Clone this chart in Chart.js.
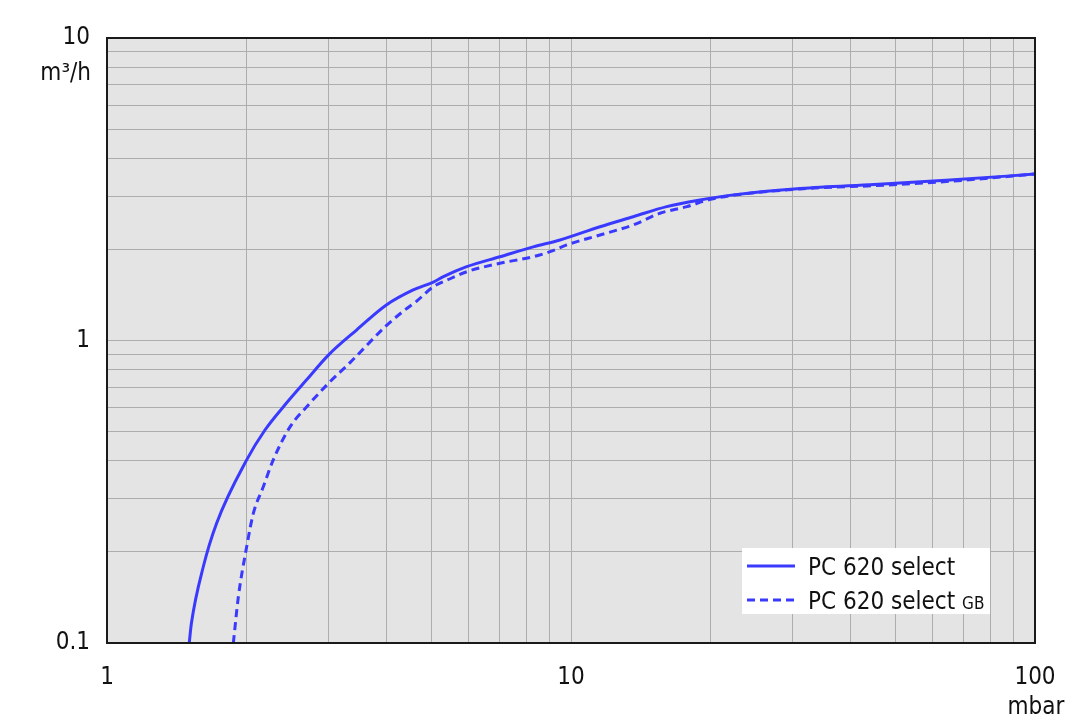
<!DOCTYPE html>
<html>
<head>
<meta charset="utf-8">
<script src="https://cdn.jsdelivr.net/npm/chart.js@4/dist/chart.umd.min.js"></script>
<style>
  html, body { margin: 0; padding: 0; background: #fff; }
  #wrap { width: 1080px; height: 721px; }
</style>
</head>
<body>
<div id="wrap"><canvas id="grafico" width="1080" height="721"></canvas></div>
<script>
// Saugvermögen (m³/h) über Druck (mbar)
const druckStd = [1.504, 1.52, 1.613, 1.723, 2.0, 2.19, 2.40, 2.69, 3.0, 3.45, 4.0, 4.57, 5.05, 5.31, 5.96, 7.03, 8.29, 9.47, 11.55, 13.62, 16.08, 18.97, 22.4, 31.2, 45, 65.6, 100];
const saugStd  = [0.1, 0.116, 0.179, 0.249, 0.403, 0.506, 0.604, 0.74, 0.895, 1.083, 1.31, 1.469, 1.56, 1.626, 1.754, 1.892, 2.04, 2.149, 2.377, 2.566, 2.77, 2.914, 3.03, 3.18, 3.28, 3.39, 3.55];

const druckGB = [1.872, 1.919, 2.0, 2.067, 2.173, 2.282, 2.48, 2.71, 2.996, 3.34, 4.0, 4.35, 4.65, 5.05, 5.49, 5.96, 7.03, 8.29, 9.01, 9.79, 11.55, 13.62, 15.55, 17.76, 20, 31.2, 45, 65.6, 100];
const saugGB  = [0.1, 0.142, 0.208, 0.268, 0.329, 0.403, 0.518, 0.61, 0.72, 0.845, 1.12, 1.25, 1.35, 1.506, 1.60, 1.688, 1.80, 1.892, 1.966, 2.07, 2.233, 2.41, 2.634, 2.77, 2.93, 3.17, 3.25, 3.36, 3.55];

const xTicks = [1, 10, 100];
const yTicks = [0.1, 1, 10];
const serien = ['PC 620 select', 'PC 620 select'];
const serienZusatz = ['', 'GB'];

const FONT = '"DejaVu Sans Condensed", "DejaVu Sans", sans-serif';
const BLAU = 'rgb(58, 58, 255)';

// Dekaden-Ticks 1..9 pro Dekade
function logTicks(scale, majors) {
  const ticks = [];
  for (let i = 0; i < majors.length; i++) {
    const m = majors[i];
    ticks.push({ value: m });
    if (i < majors.length - 1) {
      for (let k = 2; k <= 9; k++) ticks.push({ value: m * k });
    }
  }
  scale.ticks = ticks;
}

const hintergrund = {
  id: 'hintergrund',
  beforeDraw(chart) {
    const { ctx, chartArea: a } = chart;
    ctx.save();
    ctx.fillStyle = '#e4e4e4';
    ctx.fillRect(a.left, a.top, a.right - a.left, a.bottom - a.top);
    ctx.restore();
  },
  afterDatasetsDraw(chart) {
    const { ctx, chartArea: a } = chart;
    ctx.save();
    ctx.strokeStyle = '#1a1a1a';
    ctx.lineWidth = 2;
    ctx.strokeRect(a.left, a.top, a.right - a.left, a.bottom - a.top);
    ctx.restore();
  },
  afterDraw(chart) {
    const { ctx, chartArea: a } = chart;
    ctx.save();
    ctx.fillStyle = '#111';
    ctx.font = '24px ' + FONT;
    // Einheiten
    ctx.textAlign = 'right';
    ctx.textBaseline = 'middle';
    ctx.fillText('m³/h', a.left - 16, 74);
    ctx.textAlign = 'center';
    ctx.fillText('mbar', a.right + 1, 708);

    // Legende
    const lx = 742, ly = 548, lw = 248, lh = 66;
    ctx.fillStyle = '#ffffff';
    ctx.fillRect(lx, ly, lw, lh);
    chart.data.datasets.forEach((ds, i) => {
      const y = ly + 18 + i * 34;
      ctx.strokeStyle = ds.borderColor;
      ctx.lineWidth = ds.borderWidth;
      ctx.setLineDash(ds.borderDash || []);
      ctx.beginPath();
      ctx.moveTo(lx + 5, y);
      ctx.lineTo(lx + 53, y);
      ctx.stroke();
      ctx.setLineDash([]);
      ctx.fillStyle = '#111';
      ctx.textAlign = 'left';
      ctx.textBaseline = 'alphabetic';
      ctx.font = '24px ' + FONT;
      const base = y + 8.5;
      ctx.fillText(serien[i], lx + 66, base);
      if (serienZusatz[i]) {
        const w = ctx.measureText(serien[i] + ' ').width;
        ctx.font = '17px ' + FONT;
        ctx.fillText(serienZusatz[i], lx + 66 + w, base);
      }
    });
    ctx.restore();
  }
};

new Chart(document.getElementById('grafico'), {
  type: 'line',
  data: {
    datasets: [
      {
        label: serien[0],
        data: druckStd.map((x, i) => ({ x: x, y: saugStd[i] })),
        borderColor: BLAU,
        borderWidth: 3,
        pointRadius: 0,
        fill: false,
        cubicInterpolationMode: 'monotone'
      },
      {
        label: serien[1] + ' ' + serienZusatz[1],
        data: druckGB.map((x, i) => ({ x: x, y: saugGB[i] })),
        borderColor: BLAU,
        borderWidth: 3,
        borderDash: [8, 5],
        pointRadius: 0,
        fill: false,
        cubicInterpolationMode: 'monotone'
      }
    ]
  },
  options: {
    responsive: false,
    animation: false,
    layout: { padding: { left: 0, top: 38, right: 45, bottom: 0 } },
    plugins: {
      legend: { display: false },
      tooltip: { enabled: false }
    },
    scales: {
      x: {
        type: 'logarithmic',
        min: 1,
        max: 100,
        afterBuildTicks: s => logTicks(s, xTicks),
        afterFit: s => { s.height = 78; },
        grid: { color: '#adadad', lineWidth: 1, drawTicks: false },
        border: { display: false },
        ticks: {
          autoSkip: false,
          maxRotation: 0,
          padding: 20,
          color: '#111',
          font: { family: FONT, size: 24 },
          callback: v => xTicks.includes(v) ? String(v) : ''
        }
      },
      y: {
        type: 'logarithmic',
        min: 0.1,
        max: 10,
        afterBuildTicks: s => logTicks(s, yTicks),
        afterFit: s => { s.width = 107; },
        grid: { color: '#adadad', lineWidth: 1, drawTicks: false },
        border: { display: false },
        ticks: {
          autoSkip: false,
          padding: 17,
          color: '#111',
          font: { family: FONT, size: 24 },
          callback: v => yTicks.includes(Number(v.toPrecision(3))) ? String(v) : ''
        }
      }
    }
  },
  plugins: [hintergrund]
});
</script>
</body>
</html>
